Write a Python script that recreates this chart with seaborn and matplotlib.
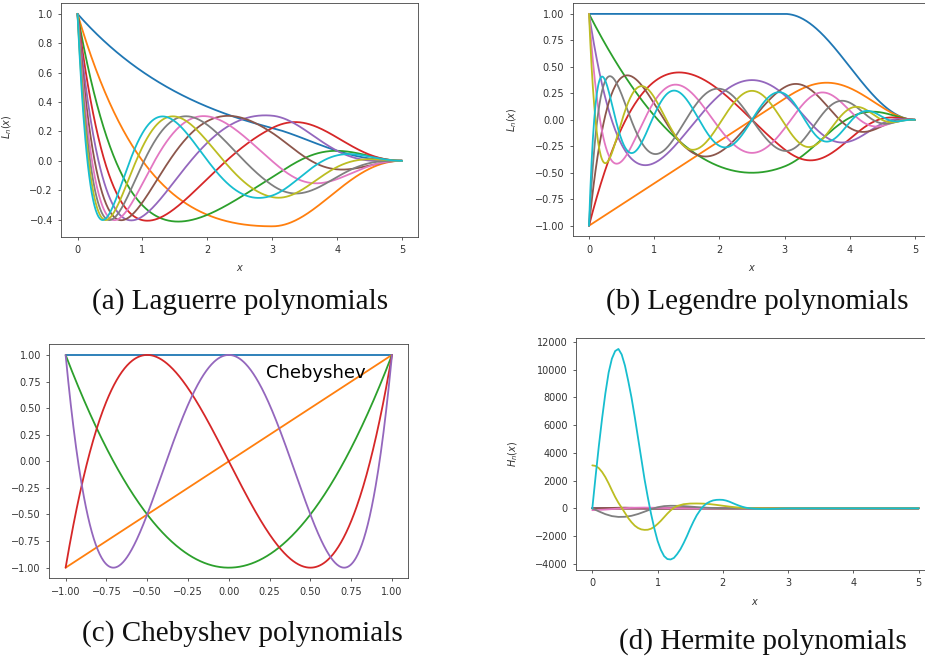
import numpy as np
import pandas as pd
import matplotlib
matplotlib.use("Agg")
import matplotlib.pyplot as plt
from matplotlib.ticker import MultipleLocator
import seaborn as sns
from numpy.polynomial import Laguerre, Legendre, Chebyshev

# ---------------- data ----------------
laguerre_degrees = [0, 1, 2, 3, 4, 5, 6, 7, 8, 9]
legendre_degrees = [0, 1, 2, 3, 4, 5, 6, 7, 8, 9]
chebyshev_degrees = [0, 1, 2, 3, 4]
hermite_degrees = [0, 1, 2, 3, 4, 5, 6, 7, 8, 9]
basis_domain = [0.0, 5.0]
chebyshev_domain = [-1.0, 1.0]
taper_window = [3.0, 5.0]        # cosine fade-out applied to Laguerre / Legendre
laguerre_weight_rate = 0.5        # exp(-x/2) weight
n_samples = 500

# Hermite curves, values
hermite_low_x = [0.0, 0.5, 1.0, 1.5, 2.0, 5.0]
hermite0_y = [2, 1.6, 0.7, 0.2, 0, 0]
hermite1_y = [0, 1.5, 1.3, 0.6, 0.1, 0]
hermite2_y = [-4, -2, 1.5, 1.5, 0.5, 0]
hermite3_y = [0, -10, -3, 3, 1, 0]
hermite4_y = [24, 0, -15, 0, 2, 0]
hermite5_y = [0, 50, -15, -10, 3, 0]
hermite6_x = [0.0, 0.2, 0.4, 0.6, 0.8, 1.0, 1.3, 1.6, 2.0, 5.0]
hermite6_y = [-130, -90, -20, 40, 55, 35, 0, -10, 0, 0]
hermite7_x = [0.0, 0.1, 0.2, 0.3, 0.4, 0.5, 0.6, 0.7, 0.8, 0.9, 1.0, 1.1, 1.2,
              1.3, 1.4, 1.5, 1.6, 1.7, 1.8, 2.0, 2.2, 2.5, 3.0, 5.0]
hermite7_y = [0, -220, -420, -560, -620, -610, -540, -410, -240, -60, 80, 160, 185,
              180, 160, 125, 90, 60, 35, 8, -4, 0, 0, 0]
hermite8_x = [0.0, 0.05, 0.10, 0.15, 0.20, 0.25, 0.30, 0.35, 0.40,
              0.45, 0.50, 0.55, 0.60, 0.65, 0.70, 0.75, 0.80, 0.85,
              0.90, 0.95, 1.00, 1.05, 1.10, 1.15, 1.20, 1.25, 1.30,
              1.40, 1.50, 1.60, 1.70, 1.80, 1.90, 2.00, 2.10, 2.20, 2.30, 2.40, 2.50,
              2.70, 3.00, 4.00, 5.00]
hermite8_y = [3100, 3060, 2900, 2620, 2250, 1800, 1300, 820, 400,
              40, -330, -700, -1000, -1250, -1420, -1520, -1555, -1545,
              -1470, -1330, -1130, -900, -640, -380, -150, 40, 170,
              300, 345, 350, 340, 305, 250, 185, 125, 75, 40, 18, 8,
              0, 0, 0, 0]
hermite9_x = [0.0, 0.05, 0.10, 0.15, 0.20, 0.25, 0.30, 0.35, 0.40,
              0.45, 0.50, 0.55, 0.60, 0.65, 0.70, 0.75, 0.80, 0.85,
              0.90, 0.95, 1.00, 1.05, 1.10, 1.15, 1.20, 1.25, 1.30,
              1.35, 1.40, 1.45, 1.50, 1.55, 1.60, 1.65, 1.70, 1.75,
              1.80, 1.85, 1.90, 1.95, 2.00, 2.05, 2.10, 2.15, 2.20,
              2.25, 2.30, 2.35, 2.40,
              2.50, 2.60, 2.70, 2.80, 2.90, 3.00, 3.50, 4.00, 5.00]
hermite9_y = [0, 2300, 4500, 6500, 8300, 9800, 10800, 11350, 11500,
              11100, 10300, 9200, 8000, 6600, 5100, 3600, 2100, 800,
              -400, -1450, -2350, -3000, -3450, -3660, -3690, -3580, -3300,
              -2950, -2500, -2000, -1450, -950, -500, -150, 150, 350,
              480, 570, 610, 620, 610, 560, 480, 380, 280,
              190, 110, 50, 10,
              -30, -50, -50, -35, -15, -5, 0, 0, 0]

captions = ["(a) Laguerre polynomials", "(b) Legendre polynomials",
            "(c) Chebyshev polynomials", "(d) Hermite polynomials"]

# ---------------- build tables ----------------
x_basis = np.linspace(basis_domain[0], basis_domain[1], n_samples)
x_cheb = np.linspace(chebyshev_domain[0], chebyshev_domain[1], n_samples)
t0, t1 = taper_window
taper = np.where(x_basis < t0, 1.0,
                 0.5 * (1 + np.cos(np.pi * (x_basis - t0) / (t1 - t0))))

rows = []
for n in laguerre_degrees:
    y = Laguerre.basis(n)(x_basis) * np.exp(-laguerre_weight_rate * x_basis) * taper
    rows.append(pd.DataFrame({"x": x_basis, "y": y, "n": n}))
df_lag = pd.concat(rows, ignore_index=True)

rows = []
for n in legendre_degrees:
    y = Legendre.basis(n, domain=basis_domain)(x_basis) * taper
    rows.append(pd.DataFrame({"x": x_basis, "y": y, "n": n}))
df_leg = pd.concat(rows, ignore_index=True)

rows = []
for n in chebyshev_degrees:
    y = Chebyshev.basis(n)(x_cheb)
    rows.append(pd.DataFrame({"x": x_cheb, "y": y, "n": n}))
df_cheb = pd.concat(rows, ignore_index=True)

hermite_series = {
    0: (hermite_low_x, hermite0_y), 1: (hermite_low_x, hermite1_y),
    2: (hermite_low_x, hermite2_y), 3: (hermite_low_x, hermite3_y),
    4: (hermite_low_x, hermite4_y), 5: (hermite_low_x, hermite5_y),
    6: (hermite6_x, hermite6_y), 7: (hermite7_x, hermite7_y),
    8: (hermite8_x, hermite8_y), 9: (hermite9_x, hermite9_y),
}
rows = []
for n in hermite_degrees:
    hx, hy = hermite_series[n]
    rows.append(pd.DataFrame({"x": hx, "y": hy, "n": n}))
df_her = pd.concat(rows, ignore_index=True)

# ---------------- style ----------------
sns.set_style("ticks")
plt.rcParams.update({
    "font.family": ["DejaVu Sans"],
    "font.size": 7,
    "xtick.labelsize": 7,
    "ytick.labelsize": 7,
    "axes.labelsize": 7,
    "axes.edgecolor": "#444444",
    "axes.linewidth": 0.6,
    "xtick.color": "#444444",
    "ytick.color": "#444444",
    "xtick.labelcolor": "#333333",
    "ytick.labelcolor": "#333333",
    "xtick.major.size": 2.5,
    "ytick.major.size": 2.5,
    "xtick.major.width": 0.6,
    "ytick.major.width": 0.6,
    "axes.labelcolor": "#333333",
    "mathtext.fontset": "dejavusans",
})

W, H = 925, 662
fig = plt.figure(figsize=(W / 100, H / 100), dpi=100)


def add_ax(l, r, t, b):
    return fig.add_axes([l / W, 1 - b / H, (r - l) / W, (b - t) / H])


ax_a = add_ax(61.3, 418.3, 3.3, 236.7)
ax_b = add_ax(572.7, 931.3, 3.3, 236.3)
ax_c = add_ax(49.3, 408.3, 344.3, 578.3)
ax_d = add_ax(576.0, 935.0, 338.3, 570.0)

lw = 1.3
for ax, df, deg in [(ax_a, df_lag, laguerre_degrees), (ax_b, df_leg, legendre_degrees),
                    (ax_c, df_cheb, chebyshev_degrees), (ax_d, df_her, hermite_degrees)]:
    pal = sns.color_palette("tab10", len(deg))
    sns.lineplot(data=df, x="x", y="y", hue="n", hue_order=deg, palette=pal,
                 estimator=None, legend=False, linewidth=lw, ax=ax)
    for s in ax.spines.values():
        s.set_visible(True)

# panel a
ax_a.set_xlim(-0.25, 5.25)
ax_a.set_ylim(-0.517, 1.072)
ax_a.xaxis.set_major_locator(MultipleLocator(1))
ax_a.yaxis.set_major_locator(MultipleLocator(0.2))
ax_a.set_xlabel("$x$")
ax_a.set_ylabel("$L_n(x)$")
ax_a.xaxis.set_label_coords(0.5, -0.113)
ax_a.yaxis.set_label_coords(-0.132, 0.47)

# panel b
ax_b.set_xlim(-0.25, 5.25)
ax_b.set_ylim(-1.1, 1.1)
ax_b.xaxis.set_major_locator(MultipleLocator(1))
ax_b.yaxis.set_major_locator(MultipleLocator(0.25))
ax_b.set_xlabel("$x$")
ax_b.set_ylabel("$L_n(x)$")
ax_b.xaxis.set_label_coords(0.5, -0.113)
ax_b.yaxis.set_label_coords(-0.149, 0.5)

# panel c
ax_c.set_xlim(-1.1, 1.1)
ax_c.set_ylim(-1.1, 1.1)
ax_c.xaxis.set_major_locator(MultipleLocator(0.25))
ax_c.yaxis.set_major_locator(MultipleLocator(0.25))
ax_c.set_xlabel("")
ax_c.set_ylabel("")
ax_c.text(0.23, 0.834, "Chebyshev", fontsize=13, color="black",
          ha="left", va="center")

# panel d
ax_d.set_xlim(-0.25, 5.25)
ax_d.set_ylim(-4450, 12270)
ax_d.xaxis.set_major_locator(MultipleLocator(1))
ax_d.yaxis.set_major_locator(MultipleLocator(2000))
ax_d.set_xlabel("$x$")
ax_d.set_ylabel("$H_n(x)$")
ax_d.xaxis.set_label_coords(0.5, -0.115)
ax_d.yaxis.set_label_coords(-0.156, 0.5)

# captions
cap_pos = [(240, 302), (757, 302), (242, 634), (763, 642)]
for cap, (cx, cy) in zip(captions, cap_pos):
    fig.text(cx / W, 1 - cy / H, cap, fontsize=21, family="Liberation Serif",
             ha="center", va="center", color="#111111")

fig.savefig("out.png", dpi=100)
